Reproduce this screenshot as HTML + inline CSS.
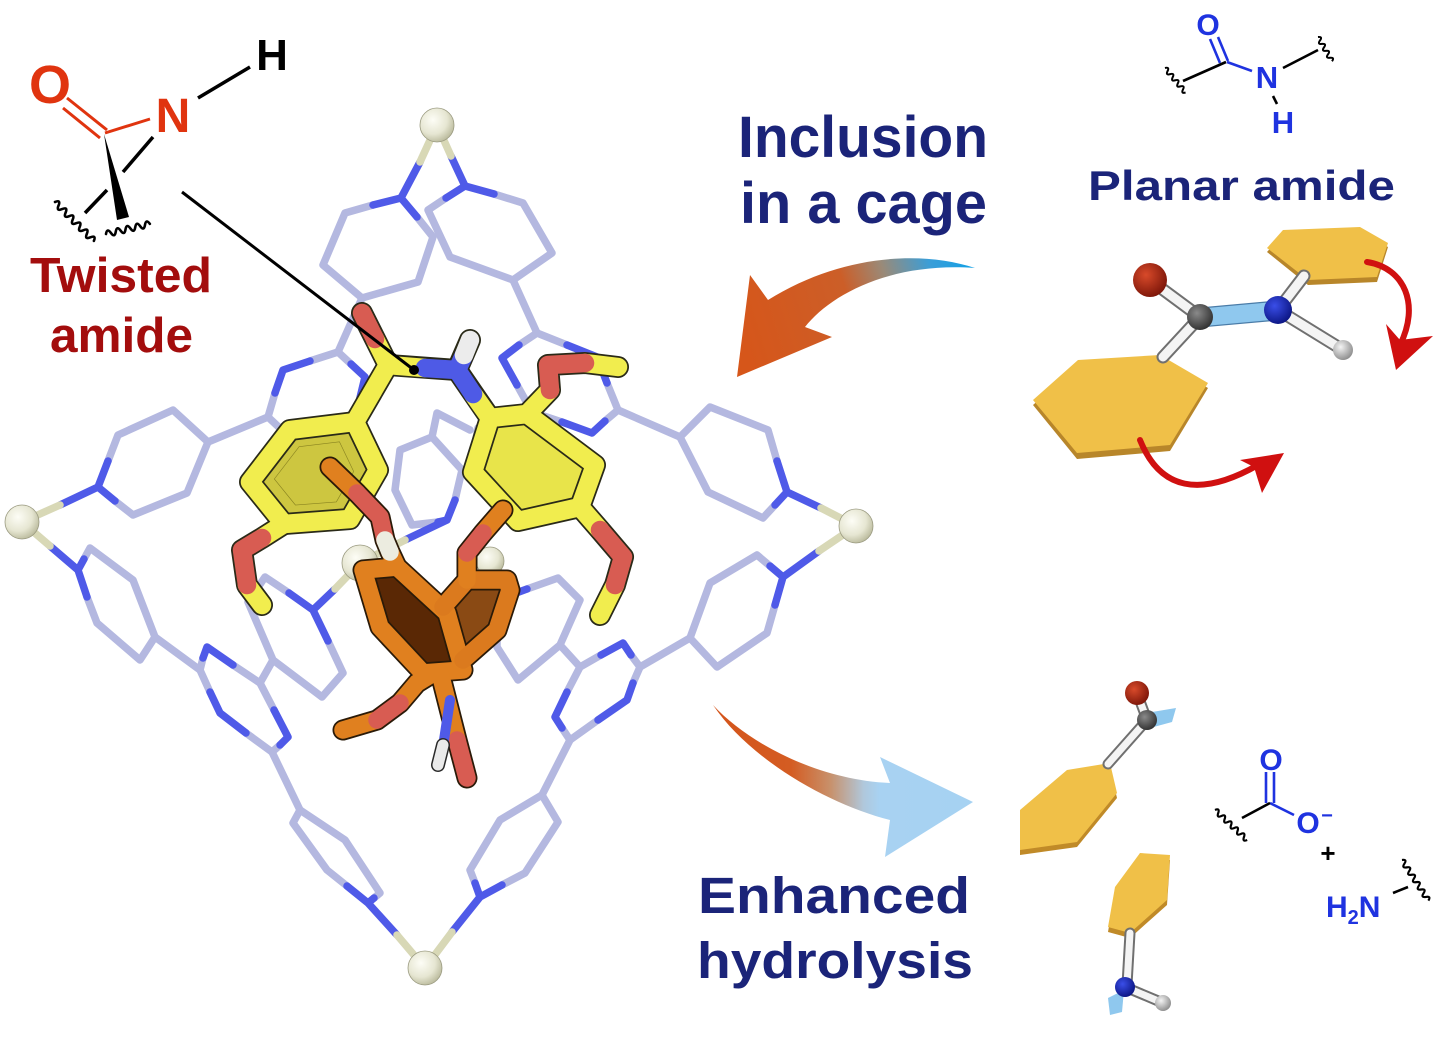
<!DOCTYPE html>
<html><head><meta charset="utf-8"><style>
html,body{margin:0;padding:0;background:#fff;}
svg{display:block;}
text{font-family:"Liberation Sans",Arial,sans-serif;font-weight:bold;}
</style></head><body>
<svg width="1440" height="1037" viewBox="0 0 1440 1037" xmlns="http://www.w3.org/2000/svg">
<defs>
<linearGradient id="g1" gradientUnits="userSpaceOnUse" x1="975" y1="268" x2="740" y2="340">
<stop offset="0" stop-color="#10a0e6"/><stop offset="0.17" stop-color="#3a9ed8"/><stop offset="0.36" stop-color="#9a8a78"/><stop offset="0.53" stop-color="#cc5e28"/><stop offset="1" stop-color="#d6561a"/>
</linearGradient>
<linearGradient id="g2" gradientUnits="userSpaceOnUse" x1="713" y1="0" x2="973" y2="0">
<stop offset="0" stop-color="#d4541a"/><stop offset="0.3" stop-color="#d45c22"/><stop offset="0.45" stop-color="#c8906a"/><stop offset="0.58" stop-color="#b0c8dc"/><stop offset="0.64" stop-color="#a8d2f2"/><stop offset="1" stop-color="#a6d2f2"/>
</linearGradient>
<radialGradient id="bc" cx="0.38" cy="0.35" r="0.7"><stop offset="0" stop-color="#fdfdf6"/><stop offset="0.6" stop-color="#e6e6d2"/><stop offset="1" stop-color="#b8b89a"/></radialGradient>
<radialGradient id="br" cx="0.38" cy="0.35" r="0.7"><stop offset="0" stop-color="#d84a2a"/><stop offset="1" stop-color="#7a1408"/></radialGradient>
<radialGradient id="bg" cx="0.38" cy="0.35" r="0.7"><stop offset="0" stop-color="#8a8a8a"/><stop offset="1" stop-color="#2e2e2e"/></radialGradient>
<radialGradient id="bb" cx="0.38" cy="0.35" r="0.7"><stop offset="0" stop-color="#3a4ee8"/><stop offset="1" stop-color="#0a1480"/></radialGradient>
<radialGradient id="bh" cx="0.38" cy="0.35" r="0.7"><stop offset="0" stop-color="#f4f4f4"/><stop offset="1" stop-color="#8a8a8a"/></radialGradient>
</defs>

<!-- ===== CAGE ===== -->
<g fill="none" stroke-linecap="round" stroke-linejoin="round" stroke-width="7.5">
<g stroke="#b4b8e0">
<path d="M373,205 L345,213 L323,265 L362,298 L418,282 L433,237 L417,217"/>
<path d="M362,298 L338,352"/>
<path d="M494,194 L523,203 L552,253 L513,280 L450,257 L428,210 L446,198"/>
<path d="M513,280 L537,333"/>
<path d="M310,361 L338,352 L351,364 M275,393 L268,417 L284,432 M326,441 L352,435 L358,406"/>
<path d="M268,417 L208,442"/>
<path d="M108,461 L118,435 L173,410 L208,442 L187,493 L133,515 L115,501"/>
<path d="M84,559 L90,548 L133,580 L155,637 L140,660 L97,623 L87,597"/>
<path d="M155,637 L200,670"/>
<path d="M233,665 L260,683 L274,710 M280,745 L272,752 L246,733 M210,692 L200,670 L203,658"/>
<path d="M260,683 L273,660"/>
<path d="M272,752 L300,810"/>
<path d="M289,593 L265,577 L248,602 L273,660 L322,697 L343,673 L328,641"/>
<path d="M374,898 L380,893 L345,840 L300,810 L293,823 L327,870 L347,886"/>
<path d="M475,883 L470,870 L500,820 L542,795 L558,822 L525,873 L502,885"/>
<path d="M542,795 L570,740"/>
<path d="M562,728 L570,740 L598,720 M567,692 L580,667 L601,655 M631,655 L640,667 L633,683"/>
<path d="M640,667 L690,638"/>
<path d="M580,667 L560,645"/>
<path d="M775,605 L767,633 L717,667 L690,638 L710,583 L757,555 L770,566"/>
<path d="M777,461 L768,430 L710,407 L680,437 L708,492 L763,518 L775,505"/>
<path d="M680,437 L618,410"/>
<path d="M567,345 L537,333 L519,345 M607,383 L618,410 L605,421 M562,422 L532,412 L517,385"/>
<path d="M527,589 L558,578 L580,600 L560,645 L518,680 L497,647 L497,623"/>
<path d="M400,450 L432,437 L462,470 L455,500 M438,522 L412,525 L395,490 L400,450 M432,437 L437,413 L470,430"/>
<path d="M532,412 L478,428 L470,470"/>
</g>
<g stroke="#4f5ae8">
<path d="M373,205 L401,198 L417,217"/>
<path d="M494,194 L465,186 L446,198"/>
<path d="M420,162 L401,198 M451,156 L465,186"/>
<path d="M310,361 L283,370 L275,393 M284,432 L300,447 L326,441 M358,406 L365,377 L351,364"/>
<path d="M108,461 L98,487 L115,501 M98,487 L60,505"/>
<path d="M50,546 L78,570 M84,559 L78,570 L87,597"/>
<path d="M203,658 L207,647 L233,665 M274,710 L288,737 L280,745 M246,733 L220,713 L210,692"/>
<path d="M289,593 L313,610 L328,641 M313,610 L335,589"/>
<path d="M374,898 L368,903 L347,886 M368,903 L397,935"/>
<path d="M452,932 L480,897 M475,883 L480,897 L502,885"/>
<path d="M562,728 L555,717 L567,692 M601,655 L623,643 L631,655 M633,683 L627,700 L598,720"/>
<path d="M775,605 L783,577 L770,566 M783,577 L819,551"/>
<path d="M777,461 L787,492 L775,505 M787,492 L821,508"/>
<path d="M567,345 L597,357 L607,383 M605,421 L592,433 L562,422 M517,385 L502,358 L519,345"/>
<path d="M527,589 L497,600 L497,623 M497,600 L494,580"/>
<path d="M455,500 L447,520 L438,522 M447,520 L405,540"/>
</g>
<g stroke="#d8d8b6">
<path d="M437,125 L420,162 M437,125 L451,156 M60,505 L22,522 M22,522 L50,546 M335,589 L360,563 M397,935 L425,968 M425,968 L452,932 M819,551 L856,526 M821,508 L856,526 M494,580 L490,561 M405,540 L360,563"/>
</g>
</g>
<g stroke="#9a9a80" stroke-width="0.8">
<circle cx="437" cy="125" r="17" fill="url(#bc)"/>
<circle cx="22" cy="522" r="17" fill="url(#bc)"/>
<circle cx="425" cy="968" r="17" fill="url(#bc)"/>
<circle cx="856" cy="526" r="17" fill="url(#bc)"/>
<circle cx="360" cy="563" r="18" fill="url(#bc)"/>
<circle cx="490" cy="561" r="14" fill="url(#bc)"/>
</g>

<!-- ===== YELLOW GUEST ===== -->
<polygon points="355,422 290,430 250,482 284,524 350,519 378,470" fill="#cdc640"/>
<polygon points="490,418 527,414 595,465 580,507 518,521 473,472" fill="#e8e44a"/>
<g fill="none" stroke-linecap="round" stroke-linejoin="round">
<g stroke="#2a2a18" stroke-width="22">
<path d="M362,313 L388,365 L457,370 M388,365 L355,422 M457,370 L470,340 M457,370 L490,418"/>
<path d="M355,422 L290,430 L250,482 L284,524 L350,519 L378,470 Z"/>
<path d="M284,524 L262,538 L242,550 L247,585 L262,605"/>
<path d="M490,418 L527,414 L595,465 L580,507 L518,521 L473,472 Z"/>
<path d="M527,414 L550,390 L548,365 L585,363 L618,367"/>
<path d="M580,507 L600,530 L623,557 L615,585 L600,615"/>
</g>
<g stroke-width="18.5">
<path stroke="#f1ed4e" d="M375,339 L388,365 L425,368 M388,365 L355,422 M473,394 L490,418"/>
<path stroke="#f1ed4e" d="M355,422 L290,430 L250,482 L284,524 L350,519 L378,470 Z"/>
<path stroke="#f1ed4e" d="M490,418 L527,414 L595,465 L580,507 L518,521 L473,472 Z"/>
<path stroke="#f1ed4e" d="M284,524 L262,538 M247,585 L262,605 M527,414 L550,390 M585,363 L618,367 M580,507 L600,530 M615,585 L600,615"/>
<path stroke="#d85c52" d="M362,313 L375,339 M262,538 L242,550 L247,585 M550,390 L548,365 L585,363 M600,530 L623,557 L615,585"/>
<path stroke="#4e5ae6" d="M425,368 L457,370 L464,355 M457,370 L473,394"/>
<path stroke="#ececec" d="M464,355 L470,340"/>
</g>
</g>
<polygon points="355,422 290,430 250,482 284,524 350,519 378,470" fill="none" stroke="#8a8420" stroke-width="1" transform="translate(314,474) scale(0.62) translate(-314,-474)"/>

<!-- ===== ORANGE GUEST ===== -->
<polygon points="443,607 467,580 507,580 510,590 497,630 463,660" fill="#8a4a14"/>
<polygon points="363,570 397,567 447,613 463,670 423,673 380,627" fill="#5a2805"/>
<g fill="none" stroke-linecap="round" stroke-linejoin="round">
<g stroke="#2a1a08" stroke-width="21">
<path d="M330,467 L357,493 L380,517 L385,540 L390,552 L397,567"/>
<path d="M363,570 L397,567 L447,613 L463,670 L423,673 L380,627 Z"/>
<path d="M443,607 L467,580 L507,580 L510,590 L497,630 L463,660"/>
<path d="M467,580 L467,553 L483,533 L503,510"/>
<path d="M440,673 L457,740 L467,778"/>
<path d="M430,675 L417,683 L400,703 L377,720 L343,730"/>
</g>
<g stroke-width="17.5">
<path stroke="#e0801f" d="M330,467 L357,493 M390,552 L397,567"/>
<path stroke="#e0801f" d="M363,570 L397,567 L447,613 L463,670 L423,673 L380,627 Z"/>
<path stroke="#db7a1e" d="M443,607 L467,580 L507,580 L510,590 L497,630 L463,660"/>
<path stroke="#e0801f" d="M467,580 L467,553 M483,533 L503,510 M440,673 L457,740 M430,675 L417,683 L400,703 M377,720 L343,730"/>
<path stroke="#d85c52" d="M357,493 L380,517 L385,540 M467,553 L483,533 M457,740 L467,778 M400,703 L377,720"/>
<path stroke="#ecece0" d="M385,540 L390,552"/>
</g>
</g>
<path d="M450,700 L444,740" stroke="#4f5ae8" stroke-width="10" stroke-linecap="round"/>
<path d="M443,745 L438,765" stroke="#2a2a2a" stroke-width="14" stroke-linecap="round"/>
<path d="M443,745 L438,765" stroke="#eaeaea" stroke-width="11" stroke-linecap="round"/>

<!-- pointer -->
<line x1="182" y1="192" x2="414" y2="370" stroke="#000" stroke-width="3"/>
<circle cx="414" cy="370" r="5" fill="#000"/>

<!-- ===== TWISTED AMIDE DRAWING ===== -->
<text x="50" y="103" font-size="54" fill="#e0340f" text-anchor="middle">O</text>
<text x="173" y="132" font-size="48" fill="#e0340f" text-anchor="middle">N</text>
<text x="272" y="70" font-size="44" fill="#000" text-anchor="middle">H</text>
<g stroke-linecap="butt" fill="none">
<path d="M67,98 L107,130 M63,108 L100,138" stroke="#e0340f" stroke-width="3"/>
<path d="M105,133 L150,119" stroke="#e0340f" stroke-width="3"/>
<path d="M198,98 L250,67" stroke="#000" stroke-width="3.5"/>
<path d="M153,137 L123,172 M107,190 L85,213" stroke="#000" stroke-width="3.5"/>
</g>
<polygon points="104,134 117,220 129,217" fill="#000"/>
<g fill="none" stroke="#000" stroke-width="2.6" stroke-linecap="round">
<path d="M0,0 q2.5,-6 5,0 t5,0 t5,0 t5,0 t5,0 t5,0 t5,0 t5,0 t5,0 t5,0 t5,0" transform="translate(55,202) rotate(45)"/>
<path d="M0,0 q2.5,-6 5,0 t5,0 t5,0 t5,0 t5,0 t5,0 t5,0 t5,0 t5,0" transform="translate(106,234) rotate(-13)"/>
</g>
<text x="30" y="292" font-size="49" fill="#a30d0d" textLength="182" lengthAdjust="spacingAndGlyphs">Twisted</text>
<text x="50" y="352" font-size="49" fill="#a30d0d" textLength="143" lengthAdjust="spacingAndGlyphs">amide</text>

<!-- ===== ARROWS ===== -->
<path d="M975,268 C920,250 840,255 768,300 L750,275 L737,377 L832,337 L805,327 C830,295 890,262 975,268 Z" fill="url(#g1)"/>
<path d="M713,705 C750,745 820,780 890,783 L880,757 L973,802 L885,857 L890,820 C830,805 750,760 713,705 Z" fill="url(#g2)"/>

<text x="738" y="157" font-size="58" fill="#1b2479" textLength="250" lengthAdjust="spacingAndGlyphs">Inclusion</text>
<text x="740" y="223" font-size="58" fill="#1b2479" textLength="247" lengthAdjust="spacingAndGlyphs">in a cage</text>
<text x="698" y="913" font-size="51" fill="#1b2479" textLength="272" lengthAdjust="spacingAndGlyphs">Enhanced</text>
<text x="697" y="978" font-size="51" fill="#1b2479" textLength="276" lengthAdjust="spacingAndGlyphs">hydrolysis</text>
<text x="1088" y="200" font-size="42" fill="#1b2479" textLength="307" lengthAdjust="spacingAndGlyphs">Planar amide</text>

<!-- ===== PLANAR AMIDE 2D ===== -->
<text x="1208" y="35" font-size="30" fill="#1f33e0" text-anchor="middle">O</text>
<text x="1267" y="88" font-size="31" fill="#1f33e0" text-anchor="middle">N</text>
<text x="1283" y="133" font-size="31" fill="#1f33e0" text-anchor="middle">H</text>
<g fill="none" stroke-width="2.6">
<path d="M1218,37 L1228,61 M1210,39 L1220,63" stroke="#1f33e0"/>
<path d="M1227,62 L1252,71" stroke="#1f33e0"/>
<path d="M1226,62 L1183,81 M1273,96 L1277,104 M1283,68 L1318,50" stroke="#000"/>
<path d="M0,0 q2,-4.5 4,0 t4,0 t4,0 t4,0 t4,0 t4,0 t4,0 t4,0" transform="translate(1165,68) rotate(50)" stroke="#000" stroke-width="2"/>
<path d="M0,0 q2,-4.5 4,0 t4,0 t4,0 t4,0 t4,0 t4,0 t4,0" transform="translate(1318,37) rotate(60)" stroke="#000" stroke-width="2"/>
</g>

<!-- ===== PLANAR AMIDE 3D ===== -->
<polygon points="1267,252 1283,234 1360,231 1388,247 1377,282 1308,285" fill="#b8862a"/>
<polygon points="1267,248 1283,230 1360,227 1388,243 1377,277 1308,280" fill="#f0c048"/>
<polygon points="1033,405 1078,365 1160,360 1208,388 1170,451 1077,459" fill="#b8862a"/>
<polygon points="1033,400 1078,360 1160,355 1208,383 1170,445 1077,453" fill="#f0c048"/>
<g stroke-linecap="round" fill="none">
<path d="M1150,280 L1200,317 M1200,317 L1163,357 M1278,310 L1304,276 M1278,310 L1343,350" stroke="#707070" stroke-width="13"/>
<path d="M1150,280 L1200,317 M1200,317 L1163,357 M1278,310 L1304,276 M1278,310 L1343,350" stroke="#f4f4f4" stroke-width="9"/>
</g>
<polygon points="1200,308 1278,301 1278,320 1200,327" fill="#8fc8ee" stroke="#4a7ca8" stroke-width="1.2"/>
<circle cx="1150" cy="280" r="17" fill="url(#br)"/>
<circle cx="1200" cy="317" r="13" fill="url(#bg)"/>
<circle cx="1278" cy="310" r="14" fill="url(#bb)"/>
<circle cx="1343" cy="350" r="10" fill="url(#bh)"/>
<g fill="none" stroke="#d01010" stroke-width="6" stroke-linecap="round">
<path d="M1367,262 C1405,268 1420,305 1400,345"/>
<path d="M1140,440 C1160,490 1200,498 1258,465"/>
</g>
<polygon points="1396,370 1386,324 1400,340 1433,336" fill="#d01010"/>
<polygon points="1284,453 1240,460 1254,467 1262,493" fill="#d01010"/>

<!-- ===== HYDROLYSIS PRODUCTS ===== -->
<polygon points="1020,815 1067,775 1110,768 1117,798 1077,847 1020,855" fill="#c08a28"/>
<polygon points="1020,810 1067,770 1110,763 1117,793 1077,842 1020,850" fill="#f0c048"/>
<polygon points="1108,932 1115,892 1140,858 1170,860 1167,905 1130,938" fill="#c08a28"/>
<polygon points="1108,927 1115,887 1140,853 1170,855 1167,900 1130,933" fill="#f0c048"/>
<g stroke-linecap="round" fill="none">
<path d="M1147,720 L1108,764 M1137,693 L1147,720 M1130,933 L1127,985 M1125,987 L1163,1003" stroke="#707070" stroke-width="11"/>
<path d="M1147,720 L1108,764 M1137,693 L1147,720 M1130,933 L1127,985 M1125,987 L1163,1003" stroke="#f4f4f4" stroke-width="7"/>
</g>
<polygon points="1152,712 1176,708 1172,722 1150,728" fill="#8fc8ee"/>
<polygon points="1108,998 1124,990 1122,1012 1110,1015" fill="#8fc8ee"/>
<circle cx="1137" cy="693" r="12" fill="url(#br)"/>
<circle cx="1147" cy="720" r="10" fill="url(#bg)"/>
<circle cx="1125" cy="987" r="10" fill="url(#bb)"/>
<circle cx="1163" cy="1003" r="8" fill="url(#bh)"/>

<!-- carboxylate + amine -->
<text x="1271" y="770" font-size="30" fill="#1f33e0" text-anchor="middle">O</text>
<text x="1308" y="833" font-size="30" fill="#1f33e0" text-anchor="middle">O</text>
<text x="1327" y="822" font-size="20" fill="#1f33e0" text-anchor="middle">−</text>
<text x="1328" y="862" font-size="26" fill="#000" text-anchor="middle">+</text>
<text x="1326" y="917" font-size="30" fill="#1f33e0">H<tspan font-size="20" dy="7">2</tspan><tspan dy="-7">N</tspan></text>
<g fill="none" stroke-width="2.6">
<path d="M1266,772 L1266,803 M1274,772 L1274,803 M1270,803 L1294,815" stroke="#1f33e0"/>
<path d="M1270,803 L1242,818 M1393,893 L1408,887" stroke="#000"/>
<path d="M0,0 q2.2,-5 4.4,0 t4.4,0 t4.4,0 t4.4,0 t4.4,0 t4.4,0 t4.4,0 t4.4,0 t4.4,0 t4.4,0" transform="translate(1215,810) rotate(43)" stroke="#000" stroke-width="2.2"/>
<path d="M0,0 q2.2,-5 4.4,0 t4.4,0 t4.4,0 t4.4,0 t4.4,0 t4.4,0 t4.4,0 t4.4,0 t4.4,0 t4.4,0 t4.4,0" transform="translate(1402,860) rotate(57)" stroke="#000" stroke-width="2.2"/>
</g>
</svg>
</body></html>
